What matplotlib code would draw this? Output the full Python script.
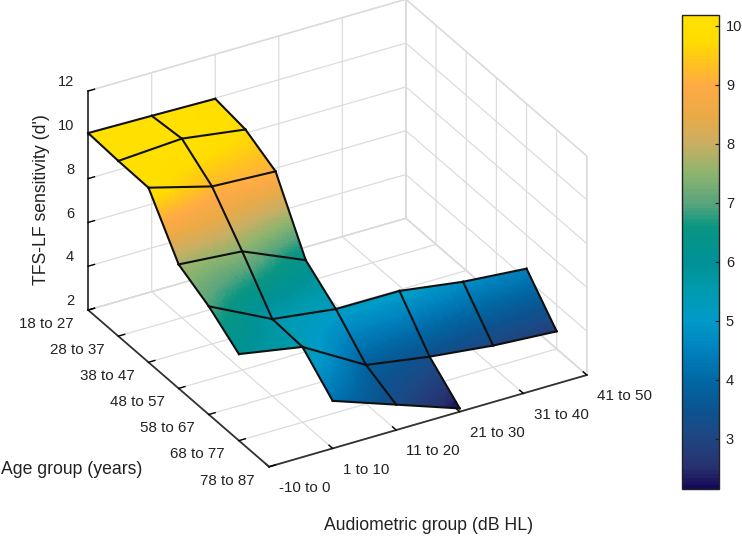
#!/usr/bin/python
import numpy as np
import matplotlib
matplotlib.use("Agg")
import matplotlib.pyplot as plt
from matplotlib.colors import LinearSegmentedColormap, Normalize
from matplotlib.cm import ScalarMappable

plt.rcParams['font.family'] = ['Liberation Sans', 'DejaVu Sans']

# ---------- DATA ----------

audio_groups = ["-10 to 0", "1 to 10", "11 to 20", "21 to 30", "31 to 40", "41 to 50"]
age_groups = ["18 to 27", "28 to 37", "38 to 47", "48 to 57", "58 to 67", "68 to 77", "78 to 87"]
z_ticks = [2, 4, 6, 8, 10, 12]
cbar_ticks = [3, 4, 5, 6, 7, 8, 9, 10]

# rows are age groups, columns audiometric groups, nan where no listeners
nan = np.nan
sens_18 = [10.08, 10.03, 9.97, nan, nan, nan]
sens_28 = [10.00, 10.18, 9.76, nan, nan, nan]
sens_38 = [9.97, 9.19, 9.04, nan, nan, nan]
sens_48 = [7.66, 7.42, 6.18, nan, nan, nan]
sens_58 = [6.94, 5.52, 5.14, 5.13, 4.71, 4.47]
sens_68 = [5.95, 5.44, 3.78, 3.32, 2.99, 2.80]
sens_78 = [nan, 4.17, 3.16, 2.15, nan, nan]

clim = (2.15, 10.18)
cmap_values = [2.15, 2.5, 3, 3.5, 4, 4.5, 5, 5.5, 6, 6.6, 7, 7.5, 8, 8.5, 9, 9.4, 9.75, 10.18]
cmap_colors = ["#140a5a", "#28326e", "#1e4682", "#0a5591", "#0069a5", "#0082be", "#009bc8",
               "#009baf", "#009196", "#0a9682", "#5aa57d", "#8cb46e", "#c8af64", "#eaaa46",
               "#ffaa46", "#ffc31e", "#ffdc00", "#ffe100"]

# ---------- PLOT ----------

sens = np.array([sens_18, sens_28, sens_38, sens_48, sens_58, sens_68, sens_78])
norm = Normalize(*clim)
positions = [(v - clim[0]) / (clim[1] - clim[0]) for v in cmap_values]
parula_like = LinearSegmentedColormap.from_list("parula_like", list(zip(positions, cmap_colors)), N=128)

fig = plt.figure(figsize=(7.42, 5.36), dpi=100)
side = 540
ax = fig.add_axes([60.2 / 742, 25.7 / 536, side / 742, side / 536],
                  projection="3d", proj_type="ortho", computed_zorder=False)
ax.view_init(elev=30, azim=-120)
ax.set_box_aspect((367, 362, 253), zoom=1.032)
ax.set_xlim(0, 5, view_margin=0)
ax.set_ylim(6, 0, view_margin=0)
ax.set_zlim(2, 12, view_margin=0)

ax.set_xticks(range(len(audio_groups)))
ax.set_xticklabels(audio_groups, fontsize=10.9, color="#222222", ha="left", va="center")
ax.set_yticks(range(len(age_groups)))
ax.set_yticklabels(age_groups, fontsize=10.9, color="#222222", ha="right", va="center")
ax.set_zticks(z_ticks)
ax.set_zticklabels(z_ticks, fontsize=10.5, color="#222222", ha="right", va="bottom")
ax.tick_params(axis="y", pad=1)
ax.tick_params(axis="z", pad=-2.3)

for axis in (ax.xaxis, ax.yaxis, ax.zaxis):
    axis.set_pane_color((1, 1, 1, 1))
    axis.pane.set_edgecolor("#d8d8d8")
    axis.line.set_color("#333333")
    axis.line.set_linewidth(1.3)
    axis._axinfo["grid"].update(color="#dcdcdc", linewidth=0.9)
    axis._axinfo["tick"].update(inward_factor=0.0, outward_factor=0.25, linewidth={True: 1.0, False: 0.5}, color="#333333")

# each cell is filled with a colour blend of its four corners
steps = 30
t = np.linspace(0, 1, steps)
for i in range(sens.shape[0] - 1):
    for j in range(sens.shape[1] - 1):
        corners = sens[i:i + 2, j:j + 2]
        if np.isnan(corners).any():
            continue
        X, Y = np.meshgrid(j + t, i + t)
        u, v = np.meshgrid(t, t)
        Z = (corners[0, 0] * (1 - u) * (1 - v) + corners[0, 1] * u * (1 - v)
             + corners[1, 0] * (1 - u) * v + corners[1, 1] * u * v)
        ax.plot_surface(X, Y, Z, facecolors=parula_like(norm(Z)), shade=False, rstride=1, cstride=1,
                        linewidth=0, antialiased=False, zorder=3)

# black mesh lines
for i in range(sens.shape[0]):
    for j in range(sens.shape[1]):
        if np.isnan(sens[i, j]):
            continue
        if j + 1 < sens.shape[1] and not np.isnan(sens[i, j + 1]):
            ax.plot([j, j + 1], [i, i], [sens[i, j], sens[i, j + 1]], color="#101010", lw=1.5, zorder=5)
        if i + 1 < sens.shape[0] and not np.isnan(sens[i + 1, j]):
            ax.plot([j, j], [i, i + 1], [sens[i, j], sens[i + 1, j]], color="#101010", lw=1.5, zorder=5)

fig.text(324 / 742, 1 - 526 / 536, "Audiometric group (dB HL)", fontsize=12.7, color="#222222", va="center")
fig.text(1 / 742, 1 - 469 / 536, "Age group (years)", fontsize=12.7, color="#222222", va="center")
fig.text(42 / 742, 1 - 200 / 536, "TFS-LF sensitivity (d')", fontsize=12.7, color="#222222",
         rotation=90, va="center", ha="center")

cax = fig.add_axes([682 / 742, 1 - 489 / 536, 37 / 742, 474 / 536])
cbar = fig.colorbar(ScalarMappable(norm=norm, cmap=parula_like), cax=cax, ticks=cbar_ticks)
cbar.ax.tick_params(direction="in", length=3, width=0.9, labelsize=10.5, labelcolor="#222222", color="#222222", pad=5)
cbar.outline.set_edgecolor("#222222")
cbar.outline.set_linewidth(1.0)

plt.savefig("out.png", dpi=100)
